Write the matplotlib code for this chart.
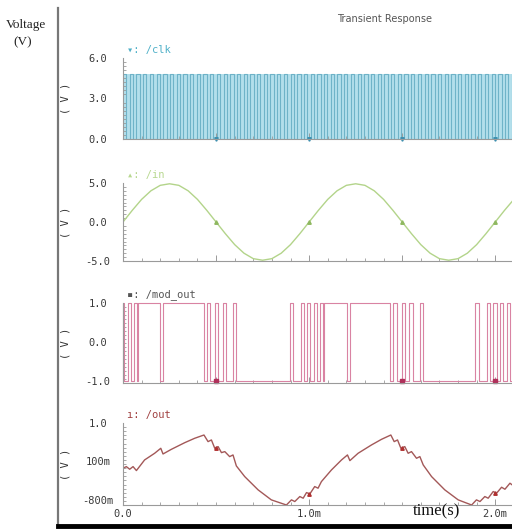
import numpy as np
import matplotlib
matplotlib.use("Agg")
import matplotlib.pyplot as plt

# ---------------- data (time in ms) ----------------
clk_period = 0.036
clk_high = 4.8
t_end = 2.09

in_t = [i * 0.05 for i in range(43)]
in_v = [0, 1.5, 2.9, 4.0, 4.7, 4.9, 4.7, 4.0, 2.9, 1.5,
        0, -1.5, -2.9, -4.0, -4.7, -4.9, -4.7, -4.0, -2.9, -1.5,
        0, 1.5, 2.9, 4.0, 4.7, 4.9, 4.7, 4.0, 2.9, 1.5,
        0, -1.5, -2.9, -4.0, -4.7, -4.9, -4.7, -4.0, -2.9, -1.5,
        0, 1.5, 2.9]

# high intervals of /mod_out
mod_high = [(0.000, 0.008), (0.027, 0.043), (0.059, 0.075), (0.081, 0.199),
            (0.215, 0.435), (0.452, 0.468), (0.495, 0.511), (0.538, 0.554),
            (0.591, 0.608), (0.898, 0.914), (0.957, 0.973), (0.989, 1.005),
            (1.027, 1.043), (1.059, 1.075), (1.081, 1.204), (1.220, 1.435),
            (1.452, 1.473), (1.500, 1.516), (1.538, 1.559), (1.597, 1.613),
            (1.892, 1.914), (1.957, 1.973), (1.989, 2.011), (2.027, 2.043),
            (2.065, 2.081)]

out_t = [0.000, 0.018, 0.036, 0.054, 0.072, 0.116, 0.170, 0.203, 0.215, 0.260,
         0.332, 0.385, 0.435, 0.457, 0.475, 0.493, 0.511, 0.529, 0.547, 0.573,
         0.591, 0.609, 0.654, 0.726, 0.797, 0.878, 0.905, 0.923, 0.950, 0.968,
         0.986, 1.004, 1.030, 1.048, 1.066, 1.120, 1.174, 1.206, 1.219, 1.263,
         1.335, 1.389, 1.439, 1.457, 1.475, 1.493, 1.514, 1.532, 1.550, 1.577,
         1.595, 1.613, 1.658, 1.729, 1.801, 1.873, 1.899, 1.918, 1.944, 1.962,
         1.989, 2.007, 2.034, 2.052, 2.079, 2.091]
out_v = [-0.060, -0.021, -0.083, -0.021, -0.114, 0.135, 0.291, 0.408, 0.275, 0.384,
         0.540, 0.642, 0.719, 0.564, 0.603, 0.408, 0.447, 0.306, 0.330, 0.213,
         0.252, -0.005, -0.255, -0.566, -0.800, -0.920, -0.800, -0.839, -0.722, -0.761,
         -0.629, -0.660, -0.488, -0.527, -0.372, -0.099, 0.135, 0.252, 0.119, 0.291,
         0.486, 0.618, 0.719, 0.564, 0.603, 0.408, 0.447, 0.291, 0.330, 0.174,
         0.213, 0.018, -0.255, -0.566, -0.800, -0.920, -0.800, -0.839, -0.722, -0.761,
         -0.605, -0.644, -0.504, -0.551, -0.410, -0.449]

marker_t = [0.5, 1.0, 1.5, 2.0]

# ---------------- figure ----------------
W, H = 512, 529
fig = plt.figure(figsize=(W / 100, H / 100), dpi=100)
mono = "DejaVu Sans Mono"
tick_col = "#3a3a3a"
spine_col = "#9a9a9a"


def px(x0, y_top, y_bot):
    return [x0 / W, 1 - y_bot / H, 1 - x0 / W, (y_bot - y_top) / H]


def setup(ax, ylim, yticks, ylabels, color, label):
    ax.set_xlim(0, t_end)
    ax.set_ylim(*ylim)
    for s in ["top", "right"]:
        ax.spines[s].set_visible(False)
    for s in ["left", "bottom"]:
        ax.spines[s].set_color(spine_col)
        ax.spines[s].set_linewidth(0.8)
    ax.set_yticks(yticks)
    ax.set_yticklabels(ylabels, fontsize=7.5, family=mono, color=tick_col)
    for lab in ax.get_yticklabels():
        lab.set_ha("center")
    ax.tick_params(axis="y", which="major", length=0, pad=18)
    ax.set_yticks(np.linspace(ylim[0], ylim[1], 21), minor=True)
    ax.tick_params(axis="y", which="minor", direction="in", length=2,
                   color=spine_col, width=0.6)
    ax.set_xticks(np.arange(0, 2.01, 0.5))
    ax.set_xticks(np.arange(0, 2.09, 0.1), minor=True)
    ax.tick_params(axis="x", which="major", direction="in", length=4,
                   color=spine_col, width=0.7, labelbottom=False)
    ax.tick_params(axis="x", which="minor", direction="in", length=2,
                   color=spine_col, width=0.6)
    ax.text(0.01, 1.04, label, transform=ax.transAxes, fontsize=7.5,
            color=color, family=[mono, "DejaVu Sans"], va="bottom")
    yc = 1 - (ax.get_position().y0 + ax.get_position().height / 2)
    fig.text(65 / W, 1 - yc, "( V )", rotation=90, fontsize=7.5, family=mono,
             color="#333333", ha="center", va="center")


# panel 1: clk
ax1 = fig.add_axes(px(123, 58, 139))
edges = np.arange(0, t_end + clk_period, clk_period / 2)
clk_v = np.where(np.arange(len(edges)) % 2 == 0, clk_high, 0.0)
ax1.fill_between([0, t_end], 0, clk_high, color="#b3dfeb", lw=0)
ax1.step(edges, clk_v, where="post", color="#6fb3c8", lw=0.8)
ax1.plot(marker_t, [0] * 4, "v", ms=2.5, color="#3a8fb0", clip_on=False)
setup(ax1, (0, 6), [0, 3, 6], ["0.0", "3.0", "6.0"], "#4fb0c8", "▾: /clk")

# panel 2: in
ax2 = fig.add_axes(px(123, 183, 261))
ax2.plot(in_t, in_v, color="#b3d48a", lw=1.0)
ax2.plot(marker_t, np.interp(marker_t, in_t, in_v), "^", ms=2.5, color="#8fb860")
setup(ax2, (-5, 5), [-5, 0, 5], ["-5.0", "0.0", "5.0"], "#b8d890", "▴: /in")

# panel 3: mod_out
ax3 = fig.add_axes(px(123, 303, 383))
mt, mv = [0.0], [-1.0]
for a, b in mod_high:
    mt += [a, a, b, b]
    mv += [-1, 1, 1, -1]
mt.append(t_end)
mv.append(-1)
ax3.plot(mt, mv, color="#d983a3", lw=0.8, clip_on=False)
ax3.plot([0.5, 1.5, 2.0], [-1] * 3, "s", ms=2.2, color="#b0305a", clip_on=False)
setup(ax3, (-1.05, 1.0), [-1, 0, 1], ["-1.0", "0.0", "1.0"], "#555555",
      "▪: /mod_out")

# panel 4: out
ax4 = fig.add_axes(px(123, 423, 505))
ax4.plot(out_t, out_v, color="#a35858", lw=1.0)
ax4.plot(marker_t, np.interp(marker_t, out_t, out_v), "^", ms=2.5,
         color="#b03030")
setup(ax4, (-0.92, 1.0), [-0.8, 0.1, 1.0], ["-800m", "100m", "1.0"],
      "#a04040", "ı: /out")
ax4.set_xticks([0, 1.0, 2.0])
ax4.set_xticklabels(["0.0", "1.0m", "2.0m"], fontsize=7.5, family=mono,
                    color=tick_col)
ax4.tick_params(axis="x", which="major", labelbottom=True, pad=3)

# frame lines and titles
fig.add_artist(plt.Line2D([58 / W, 58 / W], [1 - 524 / H, 1 - 8 / H],
                          color="#777777", lw=1.6))
fig.add_artist(plt.Line2D([58 / W, 1.0], [1 - 526 / H, 1 - 526 / H],
                          color="black", lw=3.5))
fig.text(26 / W, 1 - 25 / H, "Voltage", family="Liberation Serif",
         fontsize=9.5, ha="center", va="center", color="#222222")
fig.text(23 / W, 1 - 42 / H, "(V)", family="Liberation Serif",
         fontsize=9.5, ha="center", va="center", color="#222222")
fig.text(385 / W, 1 - 19 / H, "Transient Response", fontsize=7,
         family="DejaVu Sans", ha="center", va="center", color="#555555")
fig.text(437 / W, 1 - 511 / H, "time(s)", family="Liberation Serif",
         fontsize=12, ha="center", va="center", color="#111111")

fig.savefig("out.png", dpi=100)
